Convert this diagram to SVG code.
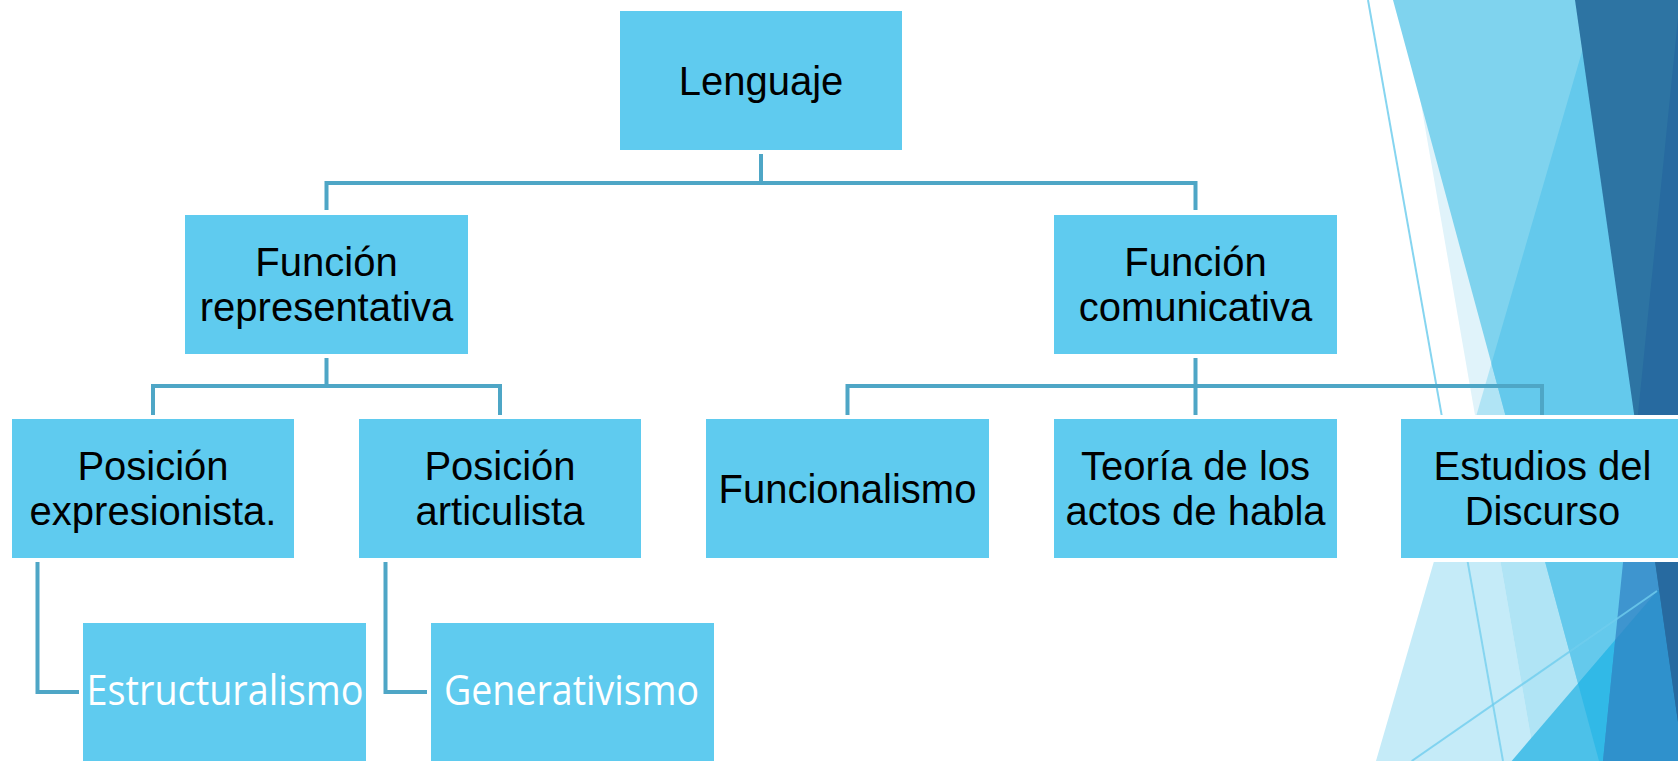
<svg xmlns="http://www.w3.org/2000/svg" width="1678" height="761" viewBox="0 0 1678 761">
<style>
.box{fill:#5fcbef;stroke:#ffffff;stroke-width:4}
.conn{fill:none;stroke:#4ea6c6;stroke-width:4}
.t{font-family:"Liberation Sans",Arial,sans-serif;font-size:40px;fill:#000000;text-anchor:middle}
.w{font-family:"Open Sans","DejaVu Sans",sans-serif;font-size:42px;fill:#ffffff;text-anchor:middle}
</style>
<defs>
<clipPath id="cS1"><polygon points="1376,761 1597,0 1678,0 1678,761"/></clipPath>
<clipPath id="cT"><polygon points="1393,0 1678,0 1678,761 1599,761"/></clipPath>
<clipPath id="cB"><polygon points="1511.7,761 1658,590 1678,590 1678,761"/></clipPath>
<clipPath id="cU"><polygon points="1603,761 1678,18 1678,761"/></clipPath>
</defs>
<rect x="0" y="0" width="1678" height="761" fill="#ffffff"/>
<g id="background">
<polygon points="1376,761 1597,0 1678,0 1678,761" fill="#c5ebf8"/>
<polygon points="1403,0 1678,0 1678,761 1535,761" fill="#e0f3fa"/>
<polygon points="1403,0 1678,0 1678,761 1535,761" fill="#b0e4f5" clip-path="url(#cS1)"/>
<polygon points="1393,0 1678,0 1678,761 1599,761" fill="#7fd3ee"/>
<polygon points="1393,0 1678,0 1678,761 1599,761" fill="#64c9ec" clip-path="url(#cS1)"/>
<polygon points="1511.7,761 1658,590 1678,590 1678,761" fill="#4cc1e9"/>
<polygon points="1511.7,761 1658,590 1678,590 1678,761" fill="#31b9e7" clip-path="url(#cT)"/>
<polygon points="1603,761 1678,18 1678,761" fill="#3e95cf"/>
<polygon points="1603,761 1678,18 1678,761" fill="#2f91cc" clip-path="url(#cB)"/>
<polygon points="1575,0 1678,0 1678,722" fill="#2d74a3"/>
<polygon points="1575,0 1678,0 1678,722" fill="#276aa0" clip-path="url(#cU)"/>
<line x1="1368" y1="0" x2="1503" y2="761" stroke="#86d5f0" stroke-width="2"/>
<line x1="1411.7" y1="761" x2="1657" y2="591" stroke="#6fcdee" stroke-width="2" stroke-opacity="0.8"/>
</g>
<g id="connectors">
<path class="conn" d="M761,154 V183 M326.5,210 V183 H1195.5 V210"/>
<path class="conn" d="M326.5,358 V386 M153,415 V386 H500 V415"/>
<path class="conn" d="M1195.5,358 V415 M847.5,415 V386 H1542 V415"/>
<path class="conn" d="M37.5,562 V692 H79"/>
<path class="conn" d="M385.5,562 V692 H427"/>
</g>
<g id="n-lenguaje">
<rect class="box" x="618" y="9" width="286" height="143"/>
<text class="t" x="761" y="95">Lenguaje</text>
</g>
<g id="n-funcion-representativa">
<rect class="box" x="183" y="213" width="287" height="143"/>
<text class="t" x="326.5" y="276">Función</text>
<text class="t" x="326.5" y="321">representativa</text>
</g>
<g id="n-funcion-comunicativa">
<rect class="box" x="1052" y="213" width="287" height="143"/>
<text class="t" x="1195.5" y="276">Función</text>
<text class="t" x="1195.5" y="321">comunicativa</text>
</g>
<g id="n-posicion-expresionista">
<rect class="box" x="10" y="417" width="286" height="143"/>
<text class="t" x="153" y="480">Posición</text>
<text class="t" x="153" y="525">expresionista.</text>
</g>
<g id="n-posicion-articulista">
<rect class="box" x="357" y="417" width="286" height="143"/>
<text class="t" x="500" y="480">Posición</text>
<text class="t" x="500" y="525">articulista</text>
</g>
<g id="n-funcionalismo">
<rect class="box" x="704" y="417" width="287" height="143"/>
<text class="t" x="847.5" y="503">Funcionalismo</text>
</g>
<g id="n-teoria">
<rect class="box" x="1052" y="417" width="287" height="143"/>
<text class="t" x="1195.5" y="480">Teoría de los</text>
<text class="t" x="1195.5" y="525">actos de habla</text>
</g>
<g id="n-estudios">
<rect class="box" x="1399" y="417" width="287" height="143"/>
<text class="t" x="1542.5" y="480">Estudios del</text>
<text class="t" x="1542.5" y="525">Discurso</text>
</g>
<g id="n-estructuralismo">
<rect class="box" x="81" y="621" width="287" height="145"/>
<text class="w" x="225" y="705" textLength="277" lengthAdjust="spacingAndGlyphs">Estructuralismo</text>
</g>
<g id="n-generativismo">
<rect class="box" x="429" y="621" width="287" height="145"/>
<text class="w" x="571.5" y="705" textLength="255" lengthAdjust="spacingAndGlyphs">Generativismo</text>
</g>
</svg>
